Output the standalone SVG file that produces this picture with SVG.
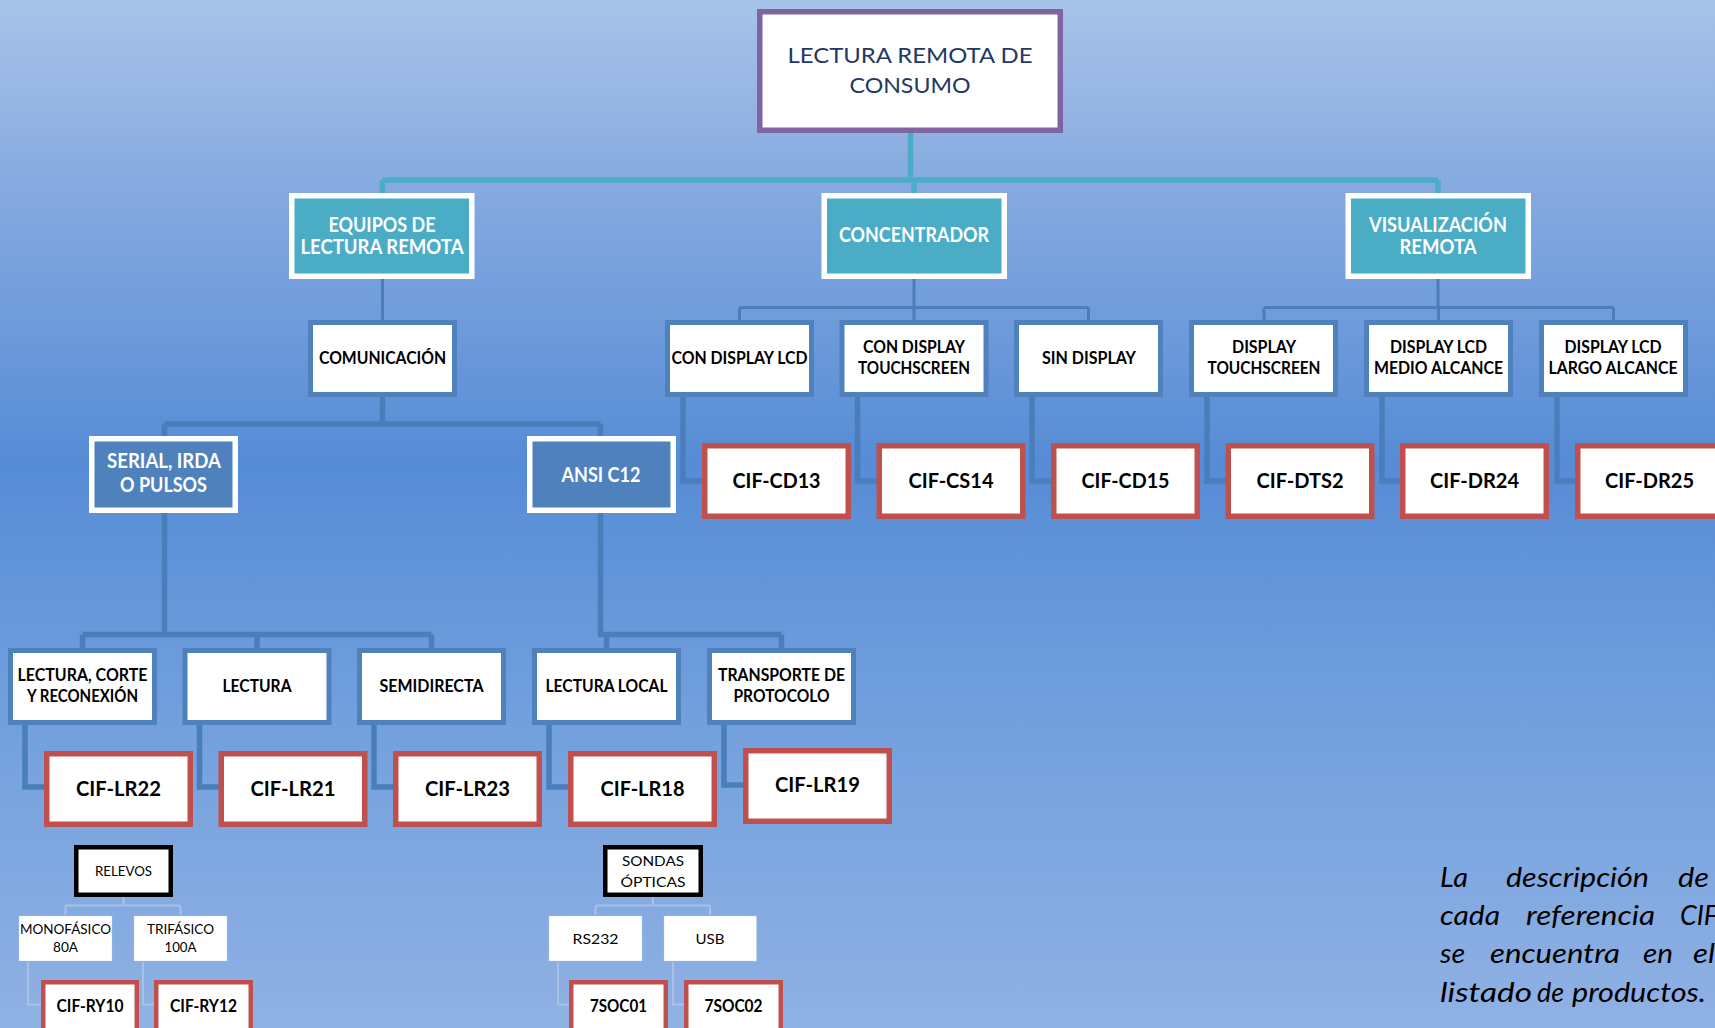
<svg xmlns="http://www.w3.org/2000/svg" width="1715" height="1028" viewBox="0 0 1715 1028">
  <defs>
    <linearGradient id="bg" x1="0" y1="0" x2="0" y2="1">
      <stop offset="0" stop-color="#A8C3E8"/>
      <stop offset="0.18" stop-color="#86AAE0"/>
      <stop offset="0.45" stop-color="#568CD6"/>
      <stop offset="0.70" stop-color="#72A0DD"/>
      <stop offset="1" stop-color="#90B1E4"/>
    </linearGradient>
    <style>
      .root rect { fill: #FFFFFF; stroke: #8064A2; stroke-width: 5.5; }
      .l1 rect { fill: #4BACC6; stroke: #FFFFFF; stroke-width: 5.5; }
      .l2 rect { fill: #FFFFFF; stroke: #4F81BD; stroke-width: 5; }
      .blu rect { fill: #4F81BD; stroke: #FFFFFF; stroke-width: 5.5; }
      .ref rect { fill: #FFFFFF; stroke: #C0504D; stroke-width: 5.5; }
      .refs rect { fill: #FFFFFF; stroke: #C0504D; stroke-width: 4.5; }
      .blk rect { fill: #FFFFFF; stroke: #000000; stroke-width: 4.5; }
      .sm rect { fill: #FFFFFF; stroke: #8DB3E2; stroke-width: 1.2; }
      text { font-family: Lato, "Liberation Sans", sans-serif; }
      .t-root { font-size: 22px; fill: #1F3864; }
      .t-l1 { font-size: 20.5px; font-weight: bold; fill: #FFFFFF; }
      .t-l2 { font-size: 16.5px; font-weight: bold; fill: #000000; }
      .t-ref { font-size: 21px; font-weight: bold; fill: #000000; }
      .t-refs { font-size: 16.5px; font-weight: bold; fill: #000000; }
      .t-sm { font-size: 14px; fill: #000000; }
      .note { font-size: 27px; font-style: italic; fill: #000000; }
      .teal { stroke: #4BACC6; stroke-width: 5.5; fill: none; }
      .thin { stroke: #4A7EBB; stroke-width: 3; fill: none; }
      .thick { stroke: #4A7EBB; stroke-width: 5.5; fill: none; }
      .faint { stroke: #A9C1E5; stroke-width: 2; fill: none; }
    </style>
  </defs>

  <rect x="0" y="0" width="1715" height="1028" fill="url(#bg)"/>

  <!-- connectors -->
  <g id="connectors">
    <!-- root to first level -->
    <path class="teal" d="M910.5 133 V180 M382.5 180 H1438 M382.5 180 V195 M914 180 V195 M1438 180 V195"/>
    <!-- EQUIPOS -> COMUNICACIÓN -->
    <path class="thin" d="M382.5 279 V320"/>
    <!-- COMUNICACIÓN -> SERIAL / ANSI -->
    <path class="thick" d="M382.5 397 V424 M164.5 424 H600.5 M164.5 424 V438 M600.5 424 V438"/>
    <!-- CONCENTRADOR -> children -->
    <path class="thin" d="M914 279 V307.5 M739.5 307.5 H1088.5 M739.5 307.5 V320 M914 307.5 V320 M1088.5 307.5 V320"/>
    <!-- VISUALIZACIÓN -> children -->
    <path class="thin" d="M1438 279 V307.5 M1264 307.5 H1613.5 M1264 307.5 V320 M1438.5 307.5 V320 M1613.5 307.5 V320"/>
    <!-- second level right -> references -->
    <path class="thick" d="M683 397 V481 H704 M857.5 397 V481 H878 M1032 397 V481 H1053 M1207 397 V481 H1228 M1382 397 V481 H1402 M1557 397 V481 H1577"/>
    <!-- SERIAL -> children -->
    <path class="thick" d="M164.5 513 V634.5 M82.5 634.5 H431.5 M82.5 634.5 V650 M257 634.5 V650 M431.5 634.5 V650"/>
    <!-- ANSI -> children -->
    <path class="thick" d="M600.5 513 V634.5 H781.5 M606.5 634.5 V650 M781.5 634.5 V650"/>
    <!-- third level -> references -->
    <path class="thick" d="M25 725 V787 H46 M199.5 725 V787 H221 M374 725 V787 H395 M549 725 V787 H570 M724 725 V785 H745"/>
    <!-- RELEVOS -> children -->
    <path class="faint" d="M123.5 897 V905.5 M65.5 905.5 H180.5 M65.5 905.5 V915 M180.5 905.5 V915"/>
    <path class="faint" d="M28 962 V1004.5 H43 M143 962 V1004.5 H156"/>
    <!-- SONDAS ÓPTICAS -> children -->
    <path class="faint" d="M653 897 V905.5 M595.5 905.5 H710 M595.5 905.5 V915 M710 905.5 V915"/>
    <path class="faint" d="M558 962 V1004.5 H571 M673 962 V1004.5 H686"/>
  </g>

  <!-- top node -->
  <g id="n-root" class="root">
    <rect x="759.75" y="11.75" width="300.5" height="118.5"/>
    <text class="t-root" x="787.5" y="63" textLength="245" lengthAdjust="spacingAndGlyphs">LECTURA REMOTA DE</text>
    <text class="t-root" x="849.5" y="93" textLength="121" lengthAdjust="spacingAndGlyphs">CONSUMO</text>
  </g>

  <!-- first level -->
  <g id="n-equipos" class="l1">
    <rect x="291.75" y="195.75" width="180" height="80.5"/>
    <text class="t-l1" x="328.5" y="232" textLength="107" lengthAdjust="spacingAndGlyphs">EQUIPOS DE</text>
    <text class="t-l1" x="300.5" y="254" textLength="163" lengthAdjust="spacingAndGlyphs">LECTURA REMOTA</text>
  </g>
  <g id="n-concentrador" class="l1">
    <rect x="824.25" y="195.75" width="180" height="80.5"/>
    <text class="t-l1" x="839" y="242" textLength="150" lengthAdjust="spacingAndGlyphs">CONCENTRADOR</text>
  </g>
  <g id="n-visualizacion" class="l1">
    <rect x="1348.25" y="195.75" width="180" height="80.5"/>
    <text class="t-l1" x="1369" y="232" textLength="138" lengthAdjust="spacingAndGlyphs">VISUALIZACIÓN</text>
    <text class="t-l1" x="1399.5" y="254" textLength="77" lengthAdjust="spacingAndGlyphs">REMOTA</text>
  </g>

  <!-- second level -->
  <g id="n-comunicacion" class="l2">
    <rect x="310.5" y="322.5" width="144" height="72"/>
    <text class="t-l2" x="319" y="364" textLength="127" lengthAdjust="spacingAndGlyphs">COMUNICACIÓN</text>
  </g>
  <g id="n-con-lcd" class="l2">
    <rect x="667.5" y="322.5" width="144" height="72"/>
    <text class="t-l2" x="671.5" y="364" textLength="136" lengthAdjust="spacingAndGlyphs">CON DISPLAY LCD</text>
  </g>
  <g id="n-con-touch" class="l2">
    <rect x="842" y="322.5" width="144" height="72"/>
    <text class="t-l2" x="863" y="353" textLength="102" lengthAdjust="spacingAndGlyphs">CON DISPLAY</text>
    <text class="t-l2" x="858" y="374" textLength="112" lengthAdjust="spacingAndGlyphs">TOUCHSCREEN</text>
  </g>
  <g id="n-sin-display" class="l2">
    <rect x="1016.5" y="322.5" width="144" height="72"/>
    <text class="t-l2" x="1042" y="364" textLength="94" lengthAdjust="spacingAndGlyphs">SIN DISPLAY</text>
  </g>
  <g id="n-display-touch" class="l2">
    <rect x="1191.5" y="322.5" width="144" height="72"/>
    <text class="t-l2" x="1232" y="353" textLength="64" lengthAdjust="spacingAndGlyphs">DISPLAY</text>
    <text class="t-l2" x="1207.5" y="374" textLength="113" lengthAdjust="spacingAndGlyphs">TOUCHSCREEN</text>
  </g>
  <g id="n-lcd-medio" class="l2">
    <rect x="1366.5" y="322.5" width="144" height="72"/>
    <text class="t-l2" x="1390" y="353" textLength="97" lengthAdjust="spacingAndGlyphs">DISPLAY LCD</text>
    <text class="t-l2" x="1374" y="374" textLength="129" lengthAdjust="spacingAndGlyphs">MEDIO ALCANCE</text>
  </g>
  <g id="n-lcd-largo" class="l2">
    <rect x="1541.5" y="322.5" width="144" height="72"/>
    <text class="t-l2" x="1564.5" y="353" textLength="97" lengthAdjust="spacingAndGlyphs">DISPLAY LCD</text>
    <text class="t-l2" x="1548.5" y="374" textLength="129" lengthAdjust="spacingAndGlyphs">LARGO ALCANCE</text>
  </g>

  <!-- communication types -->
  <g id="n-serial" class="blu">
    <rect x="91.75" y="438.75" width="143.5" height="71.5"/>
    <text class="t-l1" x="107" y="468" textLength="114" lengthAdjust="spacingAndGlyphs">SERIAL, IRDA</text>
    <text class="t-l1" x="120" y="492" textLength="87" lengthAdjust="spacingAndGlyphs">O PULSOS</text>
  </g>
  <g id="n-ansi" class="blu">
    <rect x="529.75" y="438.75" width="143.5" height="71.5"/>
    <text class="t-l1" x="561.5" y="482" textLength="79" lengthAdjust="spacingAndGlyphs">ANSI C12</text>
  </g>

  <!-- references, concentrador / visualización -->
  <g id="r-cd13" class="ref">
    <rect x="704.75" y="445.75" width="143.5" height="70.5"/>
    <text class="t-ref" x="732.5" y="488" textLength="88" lengthAdjust="spacingAndGlyphs">CIF-CD13</text>
  </g>
  <g id="r-cs14" class="ref">
    <rect x="879.25" y="445.75" width="143.5" height="70.5"/>
    <text class="t-ref" x="908.5" y="488" textLength="85" lengthAdjust="spacingAndGlyphs">CIF-CS14</text>
  </g>
  <g id="r-cd15" class="ref">
    <rect x="1053.75" y="445.75" width="143.5" height="70.5"/>
    <text class="t-ref" x="1081.5" y="488" textLength="88" lengthAdjust="spacingAndGlyphs">CIF-CD15</text>
  </g>
  <g id="r-dts2" class="ref">
    <rect x="1228.25" y="445.75" width="143.5" height="70.5"/>
    <text class="t-ref" x="1256.5" y="488" textLength="87" lengthAdjust="spacingAndGlyphs">CIF-DTS2</text>
  </g>
  <g id="r-dr24" class="ref">
    <rect x="1402.75" y="445.75" width="143.5" height="70.5"/>
    <text class="t-ref" x="1430" y="488" textLength="89" lengthAdjust="spacingAndGlyphs">CIF-DR24</text>
  </g>
  <g id="r-dr25" class="ref">
    <rect x="1577.75" y="445.75" width="143.5" height="70.5"/>
    <text class="t-ref" x="1605" y="488" textLength="89" lengthAdjust="spacingAndGlyphs">CIF-DR25</text>
  </g>

  <!-- third level -->
  <g id="n-lectura-corte" class="l2">
    <rect x="10.5" y="650.5" width="144" height="72"/>
    <text class="t-l2" x="17.5" y="681" textLength="130" lengthAdjust="spacingAndGlyphs">LECTURA, CORTE</text>
    <text class="t-l2" x="27" y="702" textLength="111" lengthAdjust="spacingAndGlyphs">Y RECONEXIÓN</text>
  </g>
  <g id="n-lectura" class="l2">
    <rect x="185" y="650.5" width="144" height="72"/>
    <text class="t-l2" x="222.5" y="692" textLength="69" lengthAdjust="spacingAndGlyphs">LECTURA</text>
  </g>
  <g id="n-semidirecta" class="l2">
    <rect x="359.5" y="650.5" width="144" height="72"/>
    <text class="t-l2" x="379.5" y="692" textLength="104" lengthAdjust="spacingAndGlyphs">SEMIDIRECTA</text>
  </g>
  <g id="n-lectura-local" class="l2">
    <rect x="534.5" y="650.5" width="144" height="72"/>
    <text class="t-l2" x="545.5" y="692" textLength="122" lengthAdjust="spacingAndGlyphs">LECTURA LOCAL</text>
  </g>
  <g id="n-transporte" class="l2">
    <rect x="709.5" y="650.5" width="144" height="72"/>
    <text class="t-l2" x="718" y="681" textLength="127" lengthAdjust="spacingAndGlyphs">TRANSPORTE DE</text>
    <text class="t-l2" x="733.5" y="702" textLength="96" lengthAdjust="spacingAndGlyphs">PROTOCOLO</text>
  </g>

  <!-- references, lectura remota -->
  <g id="r-lr22" class="ref">
    <rect x="46.75" y="753.75" width="143.5" height="70.5"/>
    <text class="t-ref" x="76" y="796" textLength="85" lengthAdjust="spacingAndGlyphs">CIF-LR22</text>
  </g>
  <g id="r-lr21" class="ref">
    <rect x="221.25" y="753.75" width="143.5" height="70.5"/>
    <text class="t-ref" x="250.5" y="796" textLength="85" lengthAdjust="spacingAndGlyphs">CIF-LR21</text>
  </g>
  <g id="r-lr23" class="ref">
    <rect x="395.75" y="753.75" width="143.5" height="70.5"/>
    <text class="t-ref" x="425" y="796" textLength="85" lengthAdjust="spacingAndGlyphs">CIF-LR23</text>
  </g>
  <g id="r-lr18" class="ref">
    <rect x="570.75" y="753.75" width="143.5" height="70.5"/>
    <text class="t-ref" x="600.5" y="796" textLength="84" lengthAdjust="spacingAndGlyphs">CIF-LR18</text>
  </g>
  <g id="r-lr19" class="ref">
    <rect x="745.75" y="750.75" width="143.5" height="70.5"/>
    <text class="t-ref" x="775" y="792" textLength="85" lengthAdjust="spacingAndGlyphs">CIF-LR19</text>
  </g>

  <!-- accessories: relevos -->
  <g id="n-relevos" class="blk">
    <rect x="76.25" y="847.25" width="94.5" height="47.5"/>
    <text class="t-sm" x="95" y="876" textLength="57" lengthAdjust="spacingAndGlyphs">RELEVOS</text>
  </g>
  <g id="n-monofasico" class="sm">
    <rect x="18.5" y="915.5" width="94" height="46"/>
    <text class="t-sm" x="20" y="934" textLength="91" lengthAdjust="spacingAndGlyphs">MONOFÁSICO</text>
    <text class="t-sm" x="53" y="952" textLength="25" lengthAdjust="spacingAndGlyphs">80A</text>
  </g>
  <g id="n-trifasico" class="sm">
    <rect x="133.5" y="915.5" width="94" height="46"/>
    <text class="t-sm" x="147" y="934" textLength="67" lengthAdjust="spacingAndGlyphs">TRIFÁSICO</text>
    <text class="t-sm" x="164.5" y="952" textLength="32" lengthAdjust="spacingAndGlyphs">100A</text>
  </g>
  <g id="r-ry10" class="refs">
    <rect x="43.25" y="982.25" width="93.5" height="60"/>
    <text class="t-refs" x="56.5" y="1012" textLength="67" lengthAdjust="spacingAndGlyphs">CIF-RY10</text>
  </g>
  <g id="r-ry12" class="refs">
    <rect x="156.25" y="982.25" width="94.5" height="60"/>
    <text class="t-refs" x="170" y="1012" textLength="67" lengthAdjust="spacingAndGlyphs">CIF-RY12</text>
  </g>

  <!-- accessories: sondas ópticas -->
  <g id="n-sondas" class="blk">
    <rect x="605.25" y="847.25" width="95.5" height="47.5"/>
    <text class="t-sm" x="622" y="866" textLength="62" lengthAdjust="spacingAndGlyphs">SONDAS</text>
    <text class="t-sm" x="620.5" y="887" textLength="65" lengthAdjust="spacingAndGlyphs">ÓPTICAS</text>
  </g>
  <g id="n-rs232" class="sm">
    <rect x="548.5" y="915.5" width="94" height="46"/>
    <text class="t-sm" x="572.5" y="944" textLength="46" lengthAdjust="spacingAndGlyphs">RS232</text>
  </g>
  <g id="n-usb" class="sm">
    <rect x="663.5" y="915.5" width="93.5" height="46"/>
    <text class="t-sm" x="695.5" y="944" textLength="29" lengthAdjust="spacingAndGlyphs">USB</text>
  </g>
  <g id="r-7soc01" class="refs">
    <rect x="571.25" y="982.25" width="94.5" height="60"/>
    <text class="t-refs" x="590" y="1012" textLength="57" lengthAdjust="spacingAndGlyphs">7SOC01</text>
  </g>
  <g id="r-7soc02" class="refs">
    <rect x="686.25" y="982.25" width="94.5" height="60"/>
    <text class="t-refs" x="704.5" y="1012" textLength="58" lengthAdjust="spacingAndGlyphs">7SOC02</text>
  </g>

  <!-- note, justified word by word; runs off the right edge -->
  <g id="note">
    <text class="note" x="1440" y="887" textLength="28" lengthAdjust="spacingAndGlyphs">La</text>
    <text class="note" x="1506" y="887" textLength="143" lengthAdjust="spacingAndGlyphs">descripción</text>
    <text class="note" x="1678" y="887" textLength="31" lengthAdjust="spacingAndGlyphs">de</text>
    <text class="note" x="1440" y="925" textLength="60" lengthAdjust="spacingAndGlyphs">cada</text>
    <text class="note" x="1526" y="925" textLength="129" lengthAdjust="spacingAndGlyphs">referencia</text>
    <text class="note" x="1680" y="925" textLength="38" lengthAdjust="spacingAndGlyphs">CIF</text>
    <text class="note" x="1440" y="963" textLength="25" lengthAdjust="spacingAndGlyphs">se</text>
    <text class="note" x="1490" y="963" textLength="130" lengthAdjust="spacingAndGlyphs">encuentra</text>
    <text class="note" x="1643" y="963" textLength="30" lengthAdjust="spacingAndGlyphs">en</text>
    <text class="note" x="1693" y="963" textLength="22" lengthAdjust="spacingAndGlyphs">el</text>
    <text class="note" x="1440" y="1002" textLength="92" lengthAdjust="spacingAndGlyphs">listado</text>
    <text class="note" x="1537" y="1002" textLength="27" lengthAdjust="spacingAndGlyphs">de</text>
    <text class="note" x="1572" y="1002" textLength="134" lengthAdjust="spacingAndGlyphs">productos.</text>
  </g>
</svg>
